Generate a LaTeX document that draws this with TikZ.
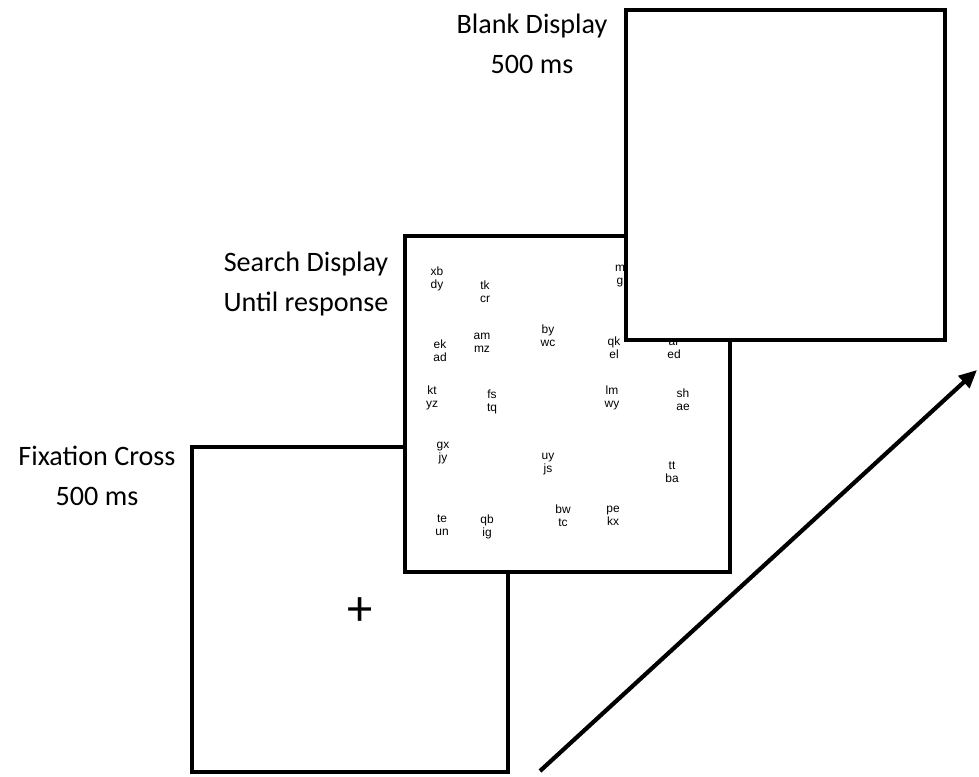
\documentclass[tikz,border=0pt]{standalone}
\usepackage{fontspec}
\setmainfont{Carlito}
\newfontfamily\stimfont{Liberation Sans}
\usepackage{tikz}
\usetikzlibrary{positioning,arrows.meta}

\begin{document}
\begin{tikzpicture}[x=0.025cm,y=-0.025cm,>={Triangle[length=4.5mm,width=4mm]},
  screen/.style={draw,line width=2.6pt,fill=white,inner sep=0pt},
  caption/.style={align=center,font=\fontsize{20}{28.5}\selectfont},
  cluster/.style={align=center,inner sep=0pt,font=\stimfont\fontsize{8.5}{9.5}\selectfont}]
\useasboundingbox (0,0) rectangle (979,776);
\node[screen,minimum width=7.9cm,minimum height=8.125cm] (fixation) at (350,609.5) {};
\node[font=\fontsize{36}{36}\selectfont] (cross) at (360,612) {+};
\node[screen,minimum width=8.125cm,minimum height=8.4cm] (search) at (567.5,404) {};
\foreach \x/\y/\top/\bot [count=\i] in {437/279/xb/dy, 485/292/tk/cr, 620/276/m/g, 482/343/am/mz, 548/336/by/wc,
  440/351/ek/ad, 614/348/qk/el, 674/349/ar/ed, 432/398/kt/yz, 492/402/fs/tq, 612/398/lm/wy, 683/400/sh/ae,
  443/453/gx/jy, 548/464/uy/js, 672/472/tt/ba, 442/525/te/un, 487/527/qb/ig, 563/516/bw/tc, 613/516/pe/kx} {
  \node[cluster] (item\i) at (\x,\y) {\top\\\bot};
}
\node[screen,minimum width=7.975cm,minimum height=8.25cm] (blank) at (785.5,175) {};
\node[caption] (fixlabel) at (97,476) {Fixation Cross\\500 ms};
\node[caption] (searchlabel) at (306,284) {Search Display\\Until response};
\node[caption] (blanklabel) at (532,44) {Blank Display\\500 ms};
\coordinate (tstart) at (540,771);
\coordinate (tend) at (977,370);
\draw[->,line width=3pt] (tstart) -- (tend);
\end{tikzpicture}
\end{document}
